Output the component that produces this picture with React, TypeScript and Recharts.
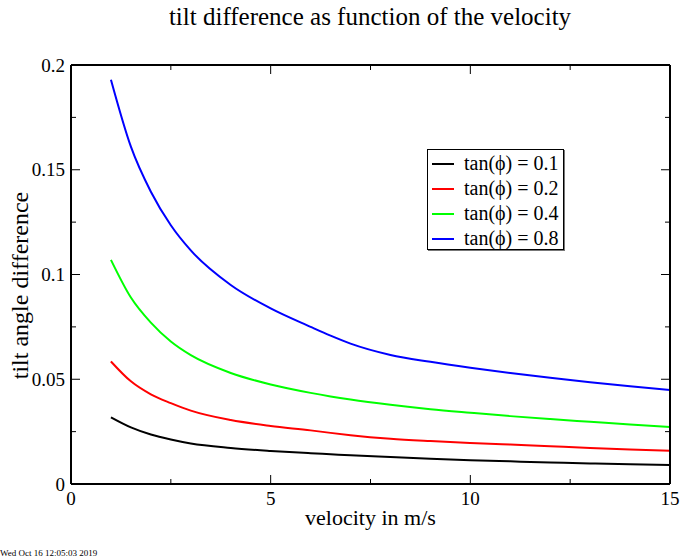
import { LineChart, Line, XAxis, YAxis, Legend } from "recharts";

const velocity = [1, 1.5, 2, 2.5, 3, 4, 5, 6, 6.5, 7, 8, 9, 10, 11, 12, 13, 14, 15];
const tan01 = [0.0318, 0.027, 0.0236, 0.0212, 0.0193, 0.0172, 0.0158, 0.0147, 0.0142, 0.0137, 0.0129, 0.0121, 0.0113, 0.0108, 0.0103, 0.0098, 0.0094, 0.0091];
const tan02 = [0.0585, 0.049, 0.0428, 0.0386, 0.035, 0.0305, 0.0277, 0.0256, 0.0244, 0.0233, 0.0216, 0.0205, 0.0196, 0.0188, 0.018, 0.0172, 0.0165, 0.0159];
const tan04 = [0.107, 0.089, 0.077, 0.068, 0.0615, 0.053, 0.0475, 0.0435, 0.0418, 0.0403, 0.0378, 0.0357, 0.034, 0.0324, 0.031, 0.0297, 0.0284, 0.0272];
const tan08 = [0.193, 0.161, 0.1395, 0.1235, 0.1115, 0.095, 0.0838, 0.075, 0.0708, 0.067, 0.0616, 0.0583, 0.0555, 0.053, 0.0507, 0.0486, 0.0467, 0.0449];

const xTicks = [0, 2.5, 5, 7.5, 10, 12.5, 15];
const yTicks = [0, 0.025, 0.05, 0.075, 0.1, 0.125, 0.15, 0.175, 0.2];

const series = [
  { key: "a", name: "tan(ϕ) = 0.1", color: "#000000", values: tan01 },
  { key: "b", name: "tan(ϕ) = 0.2", color: "#ff0000", values: tan02 },
  { key: "c", name: "tan(ϕ) = 0.4", color: "#00ff00", values: tan04 },
  { key: "d", name: "tan(ϕ) = 0.8", color: "#0000ff", values: tan08 },
];

const data = velocity.map((v, i) => {
  const row: Record<string, number> = { v };
  series.forEach((s) => {
    row[s.key] = s.values[i];
  });
  return row;
});

const FONT = '"Liberation Serif", "Times New Roman", serif';
const MARGIN = 6;
const MAJOR = 9;
const MINOR = 5;

const isMajorX = (v: number) => v % 5 === 0;
const isMajorY = (v: number) => Math.abs(v / 0.05 - Math.round(v / 0.05)) < 1e-6;

function makeTick(side: "left" | "right" | "bottom" | "top") {
  return (props: any) => {
    const { x, y, payload } = props;
    const v = payload.value as number;
    const major = side === "left" || side === "right" ? isMajorY(v) : isMajorX(v);
    const len = major ? MAJOR : MINOR;
    let line;
    let label = null;
    if (side === "left") {
      const ax = x + MARGIN;
      line = <line x1={ax} x2={ax + len} y1={y} y2={y} stroke="#000" strokeWidth={1} />;
      if (major)
        label = (
          <text x={x} y={y} dy="0.35em" textAnchor="end" fontSize={19} fontFamily={FONT} fill="#000">
            {String(v)}
          </text>
        );
    } else if (side === "right") {
      const ax = x - MARGIN;
      line = <line x1={ax} x2={ax - len} y1={y} y2={y} stroke="#000" strokeWidth={1} />;
    } else if (side === "bottom") {
      const ay = y - MARGIN;
      line = <line x1={x} x2={x} y1={ay} y2={ay - len} stroke="#000" strokeWidth={1} />;
      if (major)
        label = (
          <text x={x} y={y + 2} dy="0.71em" textAnchor="middle" fontSize={19} fontFamily={FONT} fill="#000">
            {String(v)}
          </text>
        );
    } else {
      const ay = y + MARGIN;
      line = <line x1={x} x2={x} y1={ay} y2={ay + len} stroke="#000" strokeWidth={1} />;
    }
    return (
      <g>
        {line}
        {label}
      </g>
    );
  };
}

// rotated y-axis title, a bit below the middle of the axis like the original
function YTitle(props: any) {
  const vb = props.viewBox;
  const cx = vb.x + 20;
  const cy = vb.y + vb.height / 2 + 11;
  return (
    <text
      x={cx}
      y={cy}
      transform={`rotate(-90 ${cx} ${cy})`}
      textAnchor="middle"
      dominantBaseline="central"
      fontSize={24}
      fontFamily={FONT}
      fill="#000"
    >
      tilt angle difference
    </text>
  );
}

function LegendBox() {
  return (
    <div
      style={{
        width: 137,
        height: 101,
        border: "1px solid #000",
        boxShadow: "1px 1px 0 #777",
        background: "#fff",
        boxSizing: "border-box",
        paddingTop: 1,
        fontFamily: FONT,
        fontSize: 20,
        textAlign: "left",
        whiteSpace: "nowrap",
      }}
    >
      {series.map((s) => (
        <div key={s.key} style={{ display: "flex", alignItems: "center", height: 25 }}>
          <div style={{ width: 22, height: 2, background: s.color, marginLeft: 4, marginRight: 10 }} />
          <span style={{ lineHeight: "25px" }}>{s.name}</span>
        </div>
      ))}
    </div>
  );
}

export default function App() {
  return (
    <div style={{ position: "absolute", left: 0, top: 0, width: 680, height: 558, background: "#fff" }}>
      <div
        style={{
          position: "absolute",
          left: 60,
          width: 620,
          top: 4,
          textAlign: "center",
          fontFamily: FONT,
          fontSize: 25,
          lineHeight: "25px",
          whiteSpace: "nowrap",
        }}
      >
        tilt difference as function of the velocity
      </div>
      <LineChart
        width={680}
        height={558}
        data={data}
        margin={{ top: 0, right: 0, bottom: 0, left: 0 }}
        style={{ position: "absolute", left: 0, top: 0 }}
      >
        <XAxis
          dataKey="v"
          type="number"
          domain={[0, 15]}
          ticks={xTicks}
          height={74}
          tickSize={0}
          tickMargin={MARGIN}
          tick={makeTick("bottom")}
          axisLine={{ stroke: "#000", strokeWidth: 2 }}
          interval={0}
          allowDataOverflow
          label={{
            value: "velocity in m/s",
            position: "insideTop",
            offset: 25,
            fontSize: 22,
            fontFamily: FONT,
            fill: "#000",
          }}
        />
        <XAxis
          xAxisId="top"
          orientation="top"
          dataKey="v"
          type="number"
          domain={[0, 15]}
          ticks={xTicks}
          height={65}
          tickSize={0}
          tickMargin={MARGIN}
          tick={makeTick("top")}
          axisLine={{ stroke: "#000", strokeWidth: 2 }}
          interval={0}
          allowDataOverflow
        />
        <YAxis
          type="number"
          domain={[0, 0.2]}
          ticks={yTicks}
          width={71}
          tickSize={0}
          tickMargin={MARGIN}
          tick={makeTick("left")}
          axisLine={{ stroke: "#000", strokeWidth: 2 }}
          interval={0}
          allowDataOverflow
          label={{ content: YTitle }}
        />
        <YAxis
          yAxisId="right"
          orientation="right"
          type="number"
          domain={[0, 0.2]}
          ticks={yTicks}
          width={10}
          tickSize={0}
          tickMargin={MARGIN}
          tick={makeTick("right")}
          axisLine={{ stroke: "#000", strokeWidth: 2 }}
          interval={0}
          allowDataOverflow
        />
        {series.map((s) => (
          <Line
            key={s.key}
            dataKey={s.key}
            name={s.name}
            type="monotone"
            stroke={s.color}
            strokeWidth={2}
            dot={false}
            isAnimationActive={false}
          />
        ))}
        <Legend
          layout="horizontal"
          verticalAlign="middle"
          align="center"
          content={() => <LegendBox />}
          wrapperStyle={{ left: 427, top: 149, width: "auto" }}
        />
      </LineChart>
      <div
        style={{
          position: "absolute",
          left: 0,
          top: 549,
          fontFamily: FONT,
          fontSize: 9,
          lineHeight: "9px",
          whiteSpace: "nowrap",
        }}
      >
        Wed Oct 16 12:05:03 2019
      </div>
    </div>
  );
}
